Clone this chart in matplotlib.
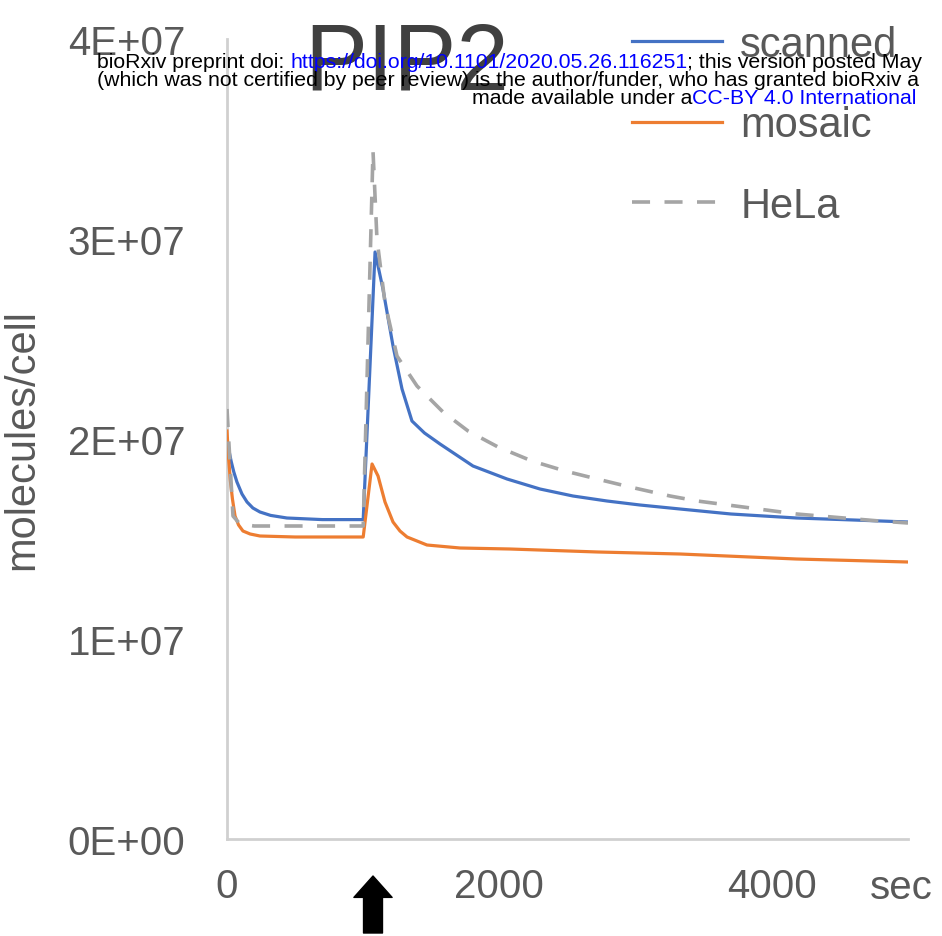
import numpy as np
import matplotlib
matplotlib.use("Agg")
import matplotlib.pyplot as plt
from matplotlib.ticker import FuncFormatter

plt.rcParams['font.family'] = ['Liberation Sans', 'DejaVu Sans']

# time (sec) and PIP2 (x 1e7 molecules/cell)
scanned_t = [0, 15, 30, 50, 73, 110, 147, 190, 242, 320, 440, 700, 1000, 1087, 1145,
             1219, 1285, 1358, 1450, 1564, 1806, 2056, 2298, 2540, 2790, 3032, 3326,
             3700, 4182, 4600, 5000]
scanned_y = [2.0, 1.94, 1.89, 1.835, 1.785, 1.725, 1.685, 1.655, 1.635, 1.618, 1.605,
             1.597, 1.597, 2.935, 2.75, 2.465, 2.25, 2.09, 2.03, 1.975, 1.865, 1.80, 1.75,
             1.715, 1.69, 1.67, 1.65, 1.625, 1.605, 1.595, 1.585]

mosaic_t = [0, 12, 25, 40, 59, 85, 117, 170, 242, 500, 1000, 1065, 1109, 1160, 1219,
            1270, 1322, 1468, 1711, 2078, 2723, 3326, 4180, 5000]
mosaic_y = [2.04, 1.9, 1.79, 1.70, 1.615, 1.57, 1.54, 1.525, 1.515, 1.51, 1.51, 1.875,
            1.815, 1.685, 1.585, 1.54, 1.51, 1.47, 1.455, 1.45, 1.435, 1.425, 1.40, 1.385]

hela_t = [0, 44, 95, 200, 1000, 1072, 1101, 1160, 1248, 1395, 1586, 1770, 1990, 2239,
          2482, 2717, 2959, 3253, 3453, 4182, 4790, 5000]
hela_y = [2.15, 1.615, 1.575, 1.565, 1.565, 3.44, 3.0, 2.68, 2.415, 2.265, 2.135, 2.04,
          1.96, 1.89, 1.84, 1.80, 1.76, 1.715, 1.69, 1.625, 1.59, 1.58]

x_ticks = [0, 2000, 4000]
y_ticks = [0, 1e7, 2e7, 3e7, 4e7]
stim_t = 1072  # arrow under the axis

W, H = 942, 937
fig = plt.figure(figsize=(W / 100, H / 100), dpi=100)
ax = fig.add_axes([227 / W, 1 - 840 / H, (908 - 227) / W, 800 / H])

ax.plot(scanned_t, np.array(scanned_y) * 1e7, color='#4472C4', lw=2.3, label='scanned',
        zorder=3, solid_joinstyle='round')
ax.plot(mosaic_t, np.array(mosaic_y) * 1e7, color='#ED7D31', lw=2.3, label='mosaic',
        zorder=3, solid_joinstyle='round')
ax.plot(hela_t, np.array(hela_y) * 1e7, color='#A5A5A5', lw=2.6, ls=(0, (5, 4)),
        label='HeLa', zorder=4)

ax.set_xlim(0, 5000)
ax.set_ylim(0, 4e7)
ax.set_xticks(x_ticks)
ax.set_yticks(y_ticks)
ax.yaxis.set_major_formatter(FuncFormatter(lambda v, p: f"{v:.0E}"))
ax.tick_params(length=0, labelsize=29, colors='#595959')
ax.tick_params(axis='y', pad=30)
ax.tick_params(axis='x', pad=20)
for s in ['top', 'right']:
    ax.spines[s].set_visible(False)
for s in ['left', 'bottom']:
    ax.spines[s].set_color('#d0d0d0')
    ax.spines[s].set_linewidth(2)
ax.set_ylabel('molecules/cell', fontsize=30, color='#595959', labelpad=18)

leg = ax.legend(loc='upper left', bbox_to_anchor=(632 / W, 1 - 26 / H),
                bbox_transform=fig.transFigure, frameon=False, fontsize=30,
                handlelength=2.15, handletextpad=0.45, labelspacing=0.97,
                borderpad=0, borderaxespad=0)
for t in leg.get_texts():
    t.set_color('#595959')

fig.text(407 / W, 1 - 90 / H, 'PIP2', fontsize=68, color='#404040',
         ha='center', va='baseline', zorder=1)
fig.text(901 / W, 1 - 888 / H, 'sec', fontsize=29, color='#595959',
         ha='center', va='center')

ax.annotate('', xy=(stim_t, 1 - 877 / H), xytext=(stim_t, 1 - 934 / H),
            xycoords=('data', 'figure fraction'), textcoords=('data', 'figure fraction'),
            arrowprops=dict(arrowstyle='simple,head_length=0.7,head_width=1.25,tail_width=0.62',
                            color='black', mutation_scale=22, shrinkA=0, shrinkB=0),
            annotation_clip=False)

# bioRxiv header laid over the figure
renderer = fig.canvas.get_renderer()
hdr = 15.3


def chain(x, y, pieces):
    for txt, col in pieces:
        t = fig.text(x / W, 1 - y / H, txt, fontsize=hdr, color=col, va='center',
                     ha='left', zorder=10)
        x += t.get_window_extent(renderer).width


chain(97, 63, [('bioRxiv preprint doi: ', 'black'),
               ('https://doi.org/10.1101/2020.05.26.116251', 'blue'),
               ('; this version posted May', 'black')])
chain(97, 81, [('(which was not certified by peer review) is the author/funder, '
                'who has granted bioRxiv a', 'black')])
chain(472, 98, [('made available under a', 'black'),
                ('CC-BY 4.0 International', 'blue')])

fig.savefig('out.png', dpi=100)
